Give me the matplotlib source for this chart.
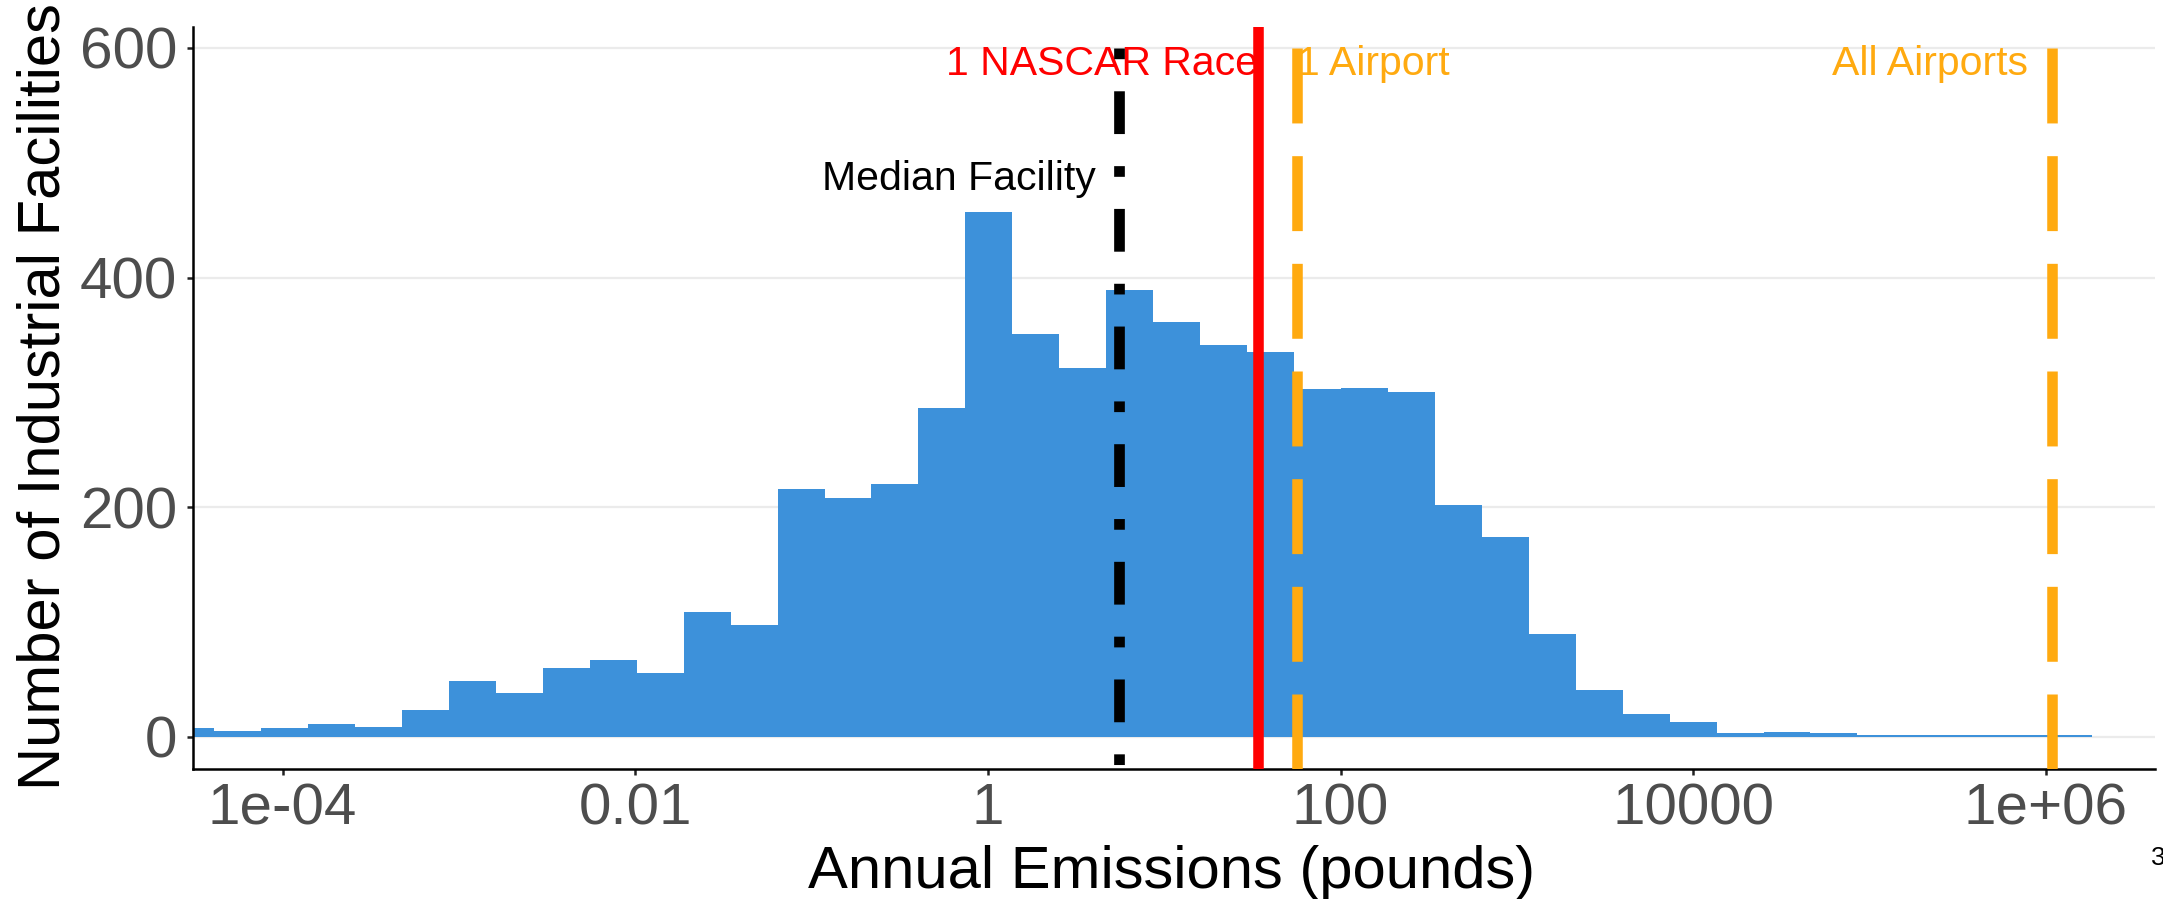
import numpy as np
import matplotlib
matplotlib.use("Agg")
import matplotlib.pyplot as plt
from matplotlib.ticker import NullLocator

plt.rcParams['font.family'] = ['Liberation Sans', 'DejaVu Sans']

# facility counts per log10 bin of annual emissions
counts = [8, 5, 8, 11, 9, 23, 49, 38, 60, 67, 56, 109, 97, 216, 208, 220, 286,
          457, 351, 321, 389, 361, 341, 335, 303, 304, 300, 202, 174, 90, 41,
          20, 13, 3, 4, 3, 2, 2, 2, 2, 2]
first_edge_log = -4.655
bin_width_log = 0.2663

# reference emission levels (pounds / year)
median_facility = 5.53
nascar_race = 34.0
one_airport = 56.6
all_airports = 1.087e6

x_ticks = [1e-4, 1e-2, 1, 1e2, 1e4, 1e6]
x_tick_labels = ["1e-04", "0.01", "1", "100", "10000", "1e+06"]
y_ticks = [0, 200, 400, 600]

bar_color = "#3D91DA"
orange = "#FFAA10"
lw = 7.6

edges = 10 ** (first_edge_log + bin_width_log * np.arange(len(counts) + 1))

fig = plt.figure(figsize=(21.63, 8.99), dpi=100)
ax = fig.add_axes([0.0892, 0.1446, 0.9069, 0.8257])

ax.bar(edges[:-1], counts, width=np.diff(edges), align='edge',
       color=bar_color, linewidth=0, zorder=2)

ax.set_xscale('log')
ax.set_xlim(10 ** -4.509, 10 ** 6.617)
ax.set_ylim(-28, 618.5)

# reference lines, dashed ones start at y = 600
ax.axvline(nascar_race, color='red', lw=lw, zorder=3)
ax.plot([one_airport, one_airport], [600, -28], color=orange, lw=lw,
        linestyle=(0, (7.1, 3.1)), zorder=3)
ax.plot([all_airports, all_airports], [600, -28], color=orange, lw=lw,
        linestyle=(0, (7.1, 3.1)), zorder=3)

ax.text(nascar_race, 576, "1 NASCAR Race", color='red', fontsize=29.5,
        ha='right', va='baseline', zorder=4)
ax.text(one_airport, 576, "1 Airport", color=orange, fontsize=29.5,
        ha='left', va='baseline', zorder=4)
ax.text(7.9e5, 576, "All Airports", color=orange, fontsize=29.5,
        ha='right', va='baseline', zorder=4)
ax.text(4.1, 476.6, "Median Facility", color='black', fontsize=29.5,
        ha='right', va='baseline', zorder=4)

ax.plot([median_facility, median_facility], [600, -28], color='black', lw=7.7,
        linestyle=(0, (1, 3, 4, 3)), zorder=5)

ax.set_xticks(x_ticks, x_tick_labels)
ax.xaxis.set_minor_locator(NullLocator())
ax.set_yticks(y_ticks)
ax.yaxis.grid(True, color='#EBEBEB', lw=1.6)
ax.set_axisbelow(True)

for side in ['top', 'right']:
    ax.spines[side].set_visible(False)
for side in ['left', 'bottom']:
    ax.spines[side].set_linewidth(1.8)
    ax.spines[side].set_color('black')

ax.tick_params(axis='both', labelsize=42, labelcolor='#4D4D4D', length=4.5,
               width=1.8, color='#222222')
ax.tick_params(axis='y', pad=7)
ax.tick_params(axis='x', pad=5)

fig.text(60 / 2163, 1 - 396.5 / 899, "Number of Industrial Facilities",
         rotation=90, rotation_mode='anchor', ha='center', va='baseline',
         fontsize=43)
fig.text(1171.5 / 2163, 1 - 888 / 899, "Annual Emissions (pounds)",
         ha='center', va='baseline', fontsize=43)
fig.text(2151 / 2163, 1 - 858 / 899, "3", ha='left', va='center', fontsize=19)

fig.savefig("out.png", dpi=100)
